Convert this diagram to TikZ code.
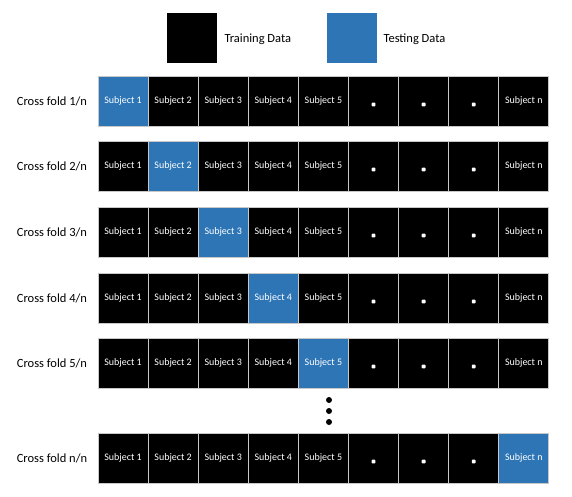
\documentclass[tikz,border=0pt]{standalone}
\usepackage{fontspec}
\setmainfont{Carlito}
\definecolor{testblue}{RGB}{46,117,182}
\definecolor{sepgray}{RGB}{200,200,200}
\tikzset{
  cell/.style={draw=sepgray, line width=0.8pt, fill=black, minimum width=50pt, minimum height=50pt, inner sep=0pt, outer sep=0pt, text=white, font=\fontsize{10}{12}\selectfont},
  testcell/.style={cell, fill=testblue},
  rowlabel/.style={anchor=center, font=\fontsize{12.5}{15}\selectfont},
  legendtext/.style={anchor=west, font=\fontsize{12.5}{15}\selectfont},
  celldot/.style={rectangle, rounded corners=0.8pt, fill=white, inner sep=0pt, minimum size=3.8pt},
  vdot/.style={circle, fill=black, inner sep=0pt, minimum size=6pt}
}
\begin{document}
\begin{tikzpicture}[x=1pt,y=-1pt]
\useasboundingbox (0,0) rectangle (572,496);
% legend
\node[cell, draw=none] (legtrain) at (192,38) {};
\node[legendtext] (legtraintxt) at (221,39) {Training Data};
\node[cell, fill=testblue, draw=none] (legtest) at (351.5,38) {};
\node[legendtext] (legtesttxt) at (380,39) {Testing Data};
% rows
\foreach \r/\lab/\y/\t in {1/1\slash n/101/1, 2/2\slash n/166/2, 3/3\slash n/232/3, 4/4\slash n/298/4, 5/5\slash n/363/5, 6/n\slash n/458/9}{
  \node[rowlabel] (lab\r) at (52,\y) {Cross fold \lab};
  \foreach \c/\txt in {1/Subject 1, 2/Subject 2, 3/Subject 3, 4/Subject 4, 5/Subject 5, 6/, 7/, 8/, 9/Subject n}{
    \ifnum\c=\t
      \node[testcell] (c\r-\c) at ({98+25+(\c-1)*50.1},\y) {\txt};
    \else
      \node[cell] (c\r-\c) at ({98+25+(\c-1)*50.1},\y) {\txt};
    \fi
  }
  \foreach \c in {6,7,8}{
    \node[celldot] (d\r-\c) at ([yshift=-3.5pt]c\r-\c.center) {};
  }
}
% vertical ellipsis
\node[vdot] (v1) at (329,400) {};
\node[vdot] (v2) at (329,411) {};
\node[vdot] (v3) at (329,422) {};
\end{tikzpicture}
\end{document}
